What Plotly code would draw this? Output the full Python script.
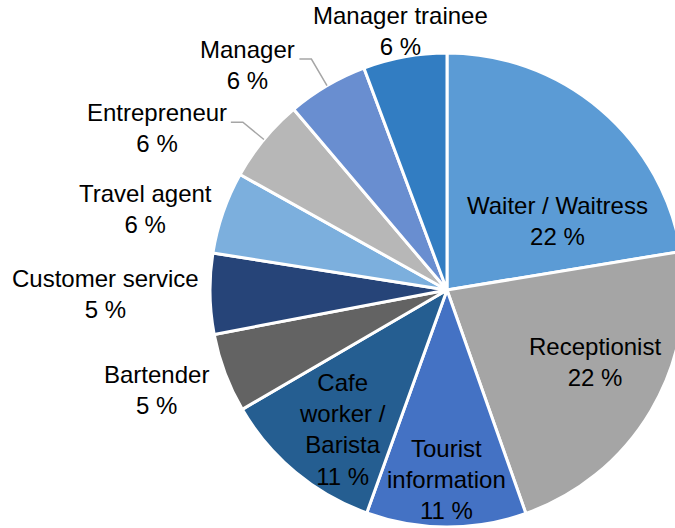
import numpy as np
import plotly.graph_objects as go

# occupations, clockwise from 12 o'clock
occupations = [
    "Waiter / Waitress",
    "Receptionist",
    "Tourist information",
    "Cafe worker / Barista",
    "Bartender",
    "Customer service",
    "Travel agent",
    "Entrepreneur",
    "Manager",
    "Manager trainee",
]
# share of respondents (%)
shares = [22.4, 22.2, 10.9, 11.1, 5.4, 5.5, 5.6, 5.7, 5.5, 5.7]
# percentages as printed on the labels
shown_pct = ["22 %", "22 %", "11 %", "11 %", "5 %", "5 %", "6 %", "6 %", "6 %", "6 %"]
# label line breaks as they appear in the chart
label_lines = [
    "Waiter / Waitress",
    "Receptionist",
    "Tourist<br>information",
    "Cafe<br>worker /<br>Barista",
    "Bartender",
    "Customer service",
    "Travel agent",
    "Entrepreneur",
    "Manager",
    "Manager trainee",
]

colors = [
    "#5B9BD5", "#A5A5A5", "#4472C4", "#255E91", "#636363",
    "#264478", "#7CAFDD", "#B7B7B7", "#698ED0", "#327DC2",
]
FONT = dict(family="Liberation Sans, Arial", size=24, color="black")

# page / pie geometry in pixels (pie runs off the right edge like the original)
W, H = 760, 528
CX, CY, R = 447, 290, 237

# label placement per slice: radius factor, angle nudge (deg), anchor
# anchor "c" = centred block, "r" = right edge of block, "L" = right edge + leader line
placement = [
    (0.548, 17.6, "c"),
    (0.695, -4.7, "c"),
    (0.80, 0.0, "c"),
    (0.733, -3.0, "c"),
    (1.08, -2.5, "r"),
    (1.04, 0.0, "r"),
    (1.04, 0.0, "r"),
    (1.115, 0.0, "L"),
    (1.13, 0.0, "L"),
    (1.11, 0.0, "c"),
]

labels_text = [f"{l}<br>{p}" for l, p in zip(label_lines, shown_pct)]

fig = go.Figure(
    go.Pie(
        labels=occupations,
        values=shares,
        textinfo="none",
        sort=False,
        direction="clockwise",
        rotation=0,
        marker=dict(colors=colors, line=dict(color="white", width=3)),
        domain=dict(x=[(CX - R) / W, (CX + R) / W], y=[(H - CY - R) / H, (H - CY + R) / H]),
        hoverinfo="label+percent",
    )
)


def px_to_paper(x, y):
    return x / W, 1 - y / H


def polar(angle_deg, r):
    a = np.radians(angle_deg)
    return CX + r * np.sin(a), CY - r * np.cos(a)


frac = np.array(shares) / sum(shares)
mid_angles = (np.cumsum(frac) - frac / 2) * 360

for i, (f, nudge, kind) in enumerate(placement):
    ang = mid_angles[i] + nudge
    if kind == "L":
        x0, y0 = polar(ang, R)
        ex, ey = polar(ang, R * f)
        lx = ex - 12
        pts = [px_to_paper(x0, y0), px_to_paper(ex, ey), px_to_paper(lx, ey)]
        fig.add_shape(
            type="path",
            xref="paper",
            yref="paper",
            path="M {} {} L {} {} L {} {}".format(*[v for p in pts for v in p]),
            line=dict(color="#A6A6A6", width=1.5),
        )
        ax, ay = px_to_paper(lx - 2, ey + 6)
        xa = "right"
    else:
        ax, ay = px_to_paper(*polar(ang, R * f))
        xa = "center" if kind == "c" else "right"
    fig.add_annotation(
        x=ax,
        y=ay,
        xref="paper",
        yref="paper",
        text=labels_text[i],
        showarrow=False,
        xanchor=xa,
        yanchor="middle",
        align="center",
        font=FONT,
    )

fig.update_layout(
    width=W,
    height=H,
    margin=dict(l=0, r=0, t=0, b=0),
    showlegend=False,
    paper_bgcolor="white",
)

fig.write_html(
    "out.html",
    config={"displayModeBar": False},
    post_script="document.body.style.margin='0';document.body.style.overflow='hidden';",
)
